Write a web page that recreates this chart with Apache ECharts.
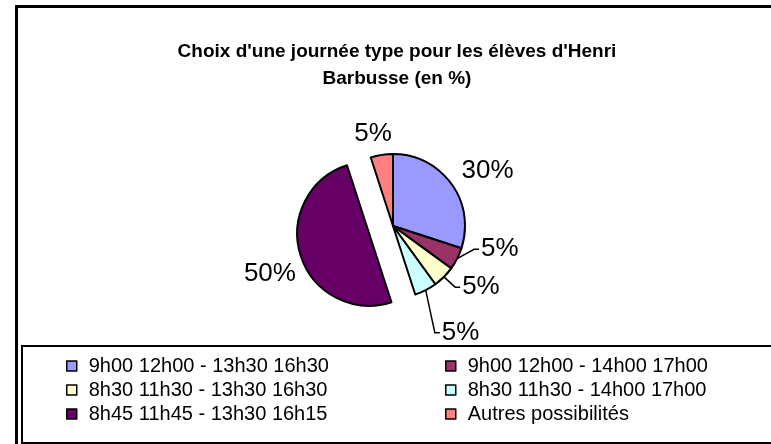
<!DOCTYPE html>
<html>
<head>
<meta charset="utf-8">
<script src="https://cdn.jsdelivr.net/npm/echarts@6/dist/echarts.min.js"></script>
<style>
  html, body { margin: 0; padding: 0; background: #fff; }
  #chart { width: 771px; height: 444px; }
</style>
</head>
<body>
<div id="chart"></div>
<script>
// Survey: preferred school-day schedule (percent of pupils)
const categories = [
  '9h00 12h00 - 13h30 16h30',
  '9h00 12h00 - 14h00 17h00',
  '8h30 11h30 - 13h30 16h30',
  '8h30 11h30 - 14h00 17h00',
  '8h45 11h45 - 13h30 16h15',
  'Autres possibilités'
];
const values = [30, 5, 5, 5, 50, 5];
const colors = ['#9999FF', '#993366', '#FFFFCC', '#CCFFFF', '#660066', '#FF8080'];
const titleText = "Choix d'une journée type pour les élèves d'Henri\nBarbusse (en %)";

// Leader-line visibility/lengths and small nudges for each slice label
const lineCfg = [
  { show: false, length: 14, length2: 0 },
  { show: true, length: 10, length2: 8 },
  { show: true, length: 6, length2: 8 },
  { show: true, length: 40, length2: 5 },
  { show: false, length: 4, length2: 0 },
  { show: false, length: 6, length2: 0 }
];
const labelShift = [[-4, -5], [4, -14], [3, 6], [-10, 7], [2, 17], [14, -15]];

const FONT = '"Liberation Sans", Arial, sans-serif';

const seriesData = categories.map((name, i) => ({
  name: name,
  value: values[i],
  selected: i === 4,
  itemStyle: { color: colors[i] },
  labelLine: {
    show: lineCfg[i].show,
    length: lineCfg[i].length,
    length2: lineCfg[i].length2
  }
}));

const legendEntry = name => ({
  name: name,
  itemStyle: { borderColor: '#000', borderWidth: 1.5 }
});
const legendText = { fontFamily: FONT, fontSize: 20, color: '#000', lineHeight: 20, padding: [0, 0, 0, 7] };
const legendBase = {
  orient: 'vertical', top: 356, padding: 0,
  itemWidth: 10, itemHeight: 10, itemGap: 4, icon: 'rect',
  selectedMode: false,
  itemStyle: { borderColor: '#000', borderWidth: 1.5 },
  textStyle: legendText
};

// Move a label by its nudge and re-route its leader line:
// slice edge -> short elbow -> left middle of the moved label.
function layoutLabel(params) {
  const s = labelShift[params.dataIndex];
  const out = { dx: s[0], dy: s[1], hideOverlap: false };
  const pts = params.labelLinePoints;
  if (lineCfg[params.dataIndex].show && pts && pts.length) {
    const r = params.labelRect;
    const end = [r.x + s[0] - 2, r.y + s[1] + r.height / 2];
    const elbow = [end[0] - 5, end[1]];
    out.labelLinePoints = [pts[0], elbow, end];
  }
  return out;
}

const chart = echarts.init(document.getElementById('chart'), null, { renderer: 'canvas' });
chart.setOption({
  backgroundColor: '#fff',
  animation: false,
  title: {
    text: titleText,
    left: 392,
    top: 33,
    textAlign: 'center',
    textStyle: { fontFamily: FONT, fontSize: 19, fontWeight: 'bold', color: '#000', lineHeight: 27 }
  },
  legend: [
    Object.assign({}, legendBase, {
      left: 66,
      data: [categories[0], categories[2], categories[4]].map(legendEntry)
    }),
    Object.assign({}, legendBase, {
      left: 445,
      data: [categories[1], categories[3], categories[5]].map(legendEntry)
    })
  ],
  graphic: [
    { type: 'rect', shape: { x: 16.5, y: 6.5, width: 800, height: 500 },
      style: { fill: 'none', stroke: '#000', lineWidth: 3 }, z: 10, silent: true },
    { type: 'rect', shape: { x: 22, y: 346, width: 800, height: 97 },
      style: { fill: 'none', stroke: '#000', lineWidth: 2 }, z: 10, silent: true }
  ],
  series: [{
    type: 'pie',
    center: [393, 226],
    radius: [0, 72],
    startAngle: 90,
    clockwise: true,
    selectedMode: 'single',
    selectedOffset: 25,
    avoidLabelOverlap: false,
    itemStyle: { borderColor: '#000', borderWidth: 2 },
    emphasis: { disabled: true },
    label: {
      show: true,
      position: 'outside',
      formatter: '{d}%',
      fontFamily: FONT,
      fontSize: 26,
      color: '#000',
      distanceToLabelLine: 3
    },
    labelLine: { lineStyle: { color: '#000', width: 1.5 }, smooth: false },
    labelLayout: layoutLabel,
    data: seriesData
  }]
});
</script>
</body>
</html>
